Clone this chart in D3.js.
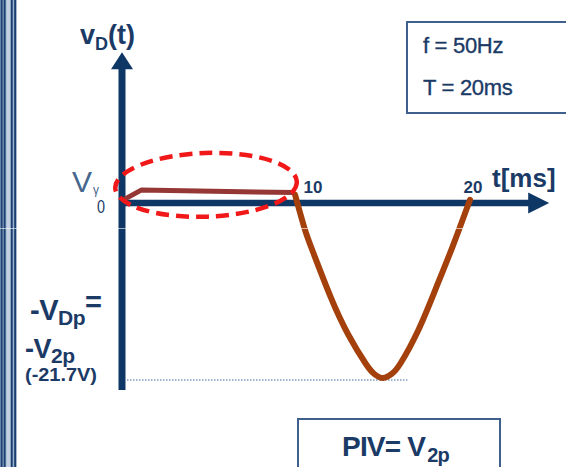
<!DOCTYPE html>
<html><head><meta charset="utf-8">
<script src="https://cdn.jsdelivr.net/npm/d3@7"></script>
<style>
html,body{margin:0;padding:0;background:#fff;}
svg{display:block;}
text{font-family:"Liberation Sans",Arial,sans-serif;}
</style></head>
<body>
<svg id="chart" width="566" height="467"></svg>
<script>
// ---- data ----
// forward-bias segment: diode conducts, v_D ≈ Vγ
const fwdTime = [0, 1.1, 9.9];
const fwdVolt = [0.3, 1.6, 1.3];
// reverse-bias segment: v_D follows -v2
const revTime = [9.95, 10.5, 11.0, 12.0, 13.0, 14.0, 14.5, 15.0, 15.5, 16.0, 17.0, 18.0, 19.0, 20.0];
const revVolt = [1.0, -3.2, -6.2, -11.7, -16.3, -19.9, -21.2, -21.7, -21.2, -19.9, -15.9, -10.8, -5.4, 0.4];
const tickTimes = [10, 20];
const tickLabels = ["10", "20"];
const peakVolt = -21.7;
const infoLines = ["f = 50Hz", "T = 20ms"];

const svg = d3.select("#chart");
const navy = "#0f3766";
const textNavy = "#1b3a66";

// scales
const x = d3.scaleLinear().domain([0, 20]).range([122, 470]);
const y = d3.scaleLinear().domain([0, peakVolt]).range([203, 378]);

// ---- left decorative border ----
const border = svg.append("g");
border.append("rect").attr("x", 0).attr("y", 0).attr("width", 16.5).attr("height", 467).attr("fill", "#9bb2cf");
border.append("rect").attr("x", 6.5).attr("y", 0).attr("width", 4.5).attr("height", 467).attr("fill", "#c3d0e2");
[1.6, 4.6, 11.7, 15.2].forEach(cx => {
  border.append("rect").attr("x", cx - 1).attr("y", 0).attr("width", 2).attr("height", 467).attr("fill", "#1b406f");
});

// ---- info box ----
svg.append("rect").attr("x", 407).attr("y", 22).attr("width", 175).attr("height", 91)
  .attr("fill", "none").attr("stroke", "#3f5f8c").attr("stroke-width", 2);
svg.append("g").selectAll("text").data(infoLines).join("text")
  .attr("x", 423).attr("y", (d, i) => 53 + i * 42)
  .attr("font-size", 22).attr("fill", textNavy).attr("stroke", textNavy).attr("stroke-width", 0.35)
  .attr("letter-spacing", -0.3)
  .text(d => d);

// ---- PIV box ----
svg.append("rect").attr("x", 298).attr("y", 419).attr("width", 202).attr("height", 70)
  .attr("fill", "none").attr("stroke", "#3f5f8c").attr("stroke-width", 2);
const piv = svg.append("text").attr("x", 342).attr("y", 456).attr("font-size", 28)
  .attr("font-weight", "bold").attr("fill", textNavy).attr("letter-spacing", -0.8);
piv.append("tspan").text("PIV= V");
piv.append("tspan").attr("font-size", 20).attr("dy", 6).attr("dx", 2).text("2p");

// ---- dotted peak guide ----
svg.append("line").attr("x1", x(0) + 5).attr("x2", x(16.4)).attr("y1", y(peakVolt) + 2).attr("y2", y(peakVolt) + 2)
  .attr("stroke", "#7d9ac0").attr("stroke-width", 1.3).attr("stroke-dasharray", "1.5,1.5");

// ---- axes ----
const yTop = 18.7, yBot = -23.2, tEnd = 24.55;
// y axis
svg.append("line").attr("x1", x(0)).attr("x2", x(0)).attr("y1", y(yTop) + 14).attr("y2", y(yBot))
  .attr("stroke", navy).attr("stroke-width", 7);
svg.append("path").attr("fill", navy)
  .attr("d", `M${x(0)},${y(yTop)} L${x(0) + 11},${y(yTop) + 17} L${x(0) - 11},${y(yTop) + 17} Z`);
// x axis
svg.append("line").attr("x1", x(0) - 3).attr("x2", x(tEnd) - 18).attr("y1", y(0)).attr("y2", y(0))
  .attr("stroke", navy).attr("stroke-width", 6.5);
svg.append("path").attr("fill", navy)
  .attr("d", `M${x(tEnd)},${y(0)} L${x(tEnd) - 21},${y(0) - 10.5} L${x(tEnd) - 21},${y(0) + 10.5} Z`);

// tick labels using a d3 axis (no domain / tick lines)
const xAxis = svg.append("g").attr("transform", `translate(0,${y(0)})`)
  .call(d3.axisTop(x).tickValues(tickTimes).tickSize(0).tickPadding(10).tickFormat((d, i) => tickLabels[i]));
xAxis.select(".domain").remove();
xAxis.selectAll("text").attr("font-family", "Liberation Sans, Arial, sans-serif")
  .attr("font-size", 17).attr("font-weight", "bold").attr("fill", textNavy)
  .attr("text-anchor", "start").attr("dx", (d, i) => i === 0 ? 7 : -7);

// ---- waveform ----
svg.append("path").datum(revTime.map((t, i) => [t, revVolt[i]]))
  .attr("fill", "none").attr("stroke", "#a3400c").attr("stroke-width", 6)
  .attr("stroke-linecap", "round").attr("stroke-linejoin", "round")
  .attr("d", d3.line().x(d => x(d[0])).y(d => y(d[1])).curve(d3.curveNatural));
svg.append("path").datum(fwdTime.map((t, i) => [t, fwdVolt[i]]))
  .attr("fill", "none").attr("stroke", "#953735").attr("stroke-width", 5)
  .attr("stroke-linejoin", "round")
  .attr("d", d3.line().x(d => x(d[0])).y(d => y(d[1])));

// ---- red dashed ellipse (forward-bias region) ----
const ellT = 4.83, ellV = 2.25, ellRt = 5.22, ellRv = 3.95;
svg.append("ellipse").attr("cx", x(ellT)).attr("cy", y(ellV))
  .attr("rx", x(ellRt) - x(0)).attr("ry", y(0) - y(ellRv))
  .attr("transform", `rotate(-2,${x(ellT)},${y(ellV)})`)
  .attr("fill", "none").attr("stroke", "#f01818").attr("stroke-width", 4.5)
  .attr("stroke-dasharray", "13,7");

// ---- labels ----
const vd = svg.append("text").attr("x", 80).attr("y", 44).attr("font-size", 27)
  .attr("font-weight", "bold").attr("fill", textNavy);
vd.append("tspan").text("v");
vd.append("tspan").attr("font-size", 18).attr("dy", 6).text("D");
vd.append("tspan").attr("dy", -6).text("(t)");

svg.append("text").attr("x", 492).attr("y", 187).attr("font-size", 26)
  .attr("font-weight", "bold").attr("fill", textNavy).text("t[ms]");

const vg = svg.append("text").attr("x", 72).attr("y", 192).attr("font-size", 30)
  .attr("fill", "#46668c");
vg.append("tspan").text("V");
vg.append("tspan").attr("font-size", 12).attr("dy", 2).attr("dx", 1).text("γ");

svg.append("text").attr("x", 97).attr("y", 213).attr("font-size", 18).attr("fill", textNavy)
  .attr("textLength", 8).attr("lengthAdjust", "spacingAndGlyphs").text("0");

const l1 = svg.append("text").attr("x", 30).attr("y", 320).attr("font-size", 29)
  .attr("font-weight", "bold").attr("fill", textNavy).attr("letter-spacing", -0.5);
l1.append("tspan").text("-V");
l1.append("tspan").attr("font-size", 21).attr("dy", 5).text("Dp");
l1.append("tspan").attr("dy", -13).text("=");

const l2 = svg.append("text").attr("x", 25).attr("y", 358).attr("font-size", 27)
  .attr("font-weight", "bold").attr("fill", textNavy).attr("letter-spacing", -0.5);
l2.append("tspan").text("-V");
l2.append("tspan").attr("font-size", 21).attr("dy", 5).text("2p");

svg.append("text").attr("x", 25).attr("y", 381).attr("font-size", 18)
  .attr("font-weight", "bold").attr("fill", textNavy)
  .attr("textLength", 72).attr("lengthAdjust", "spacingAndGlyphs").text("(-21.7V)");

// faint horizontal seam seen in the picture
svg.append("line").attr("x1", 0).attr("x2", 566).attr("y1", 228.5).attr("y2", 228.5)
  .attr("stroke", "#ffffff").attr("stroke-opacity", 0.6).attr("stroke-width", 1);
</script>
</body></html>
